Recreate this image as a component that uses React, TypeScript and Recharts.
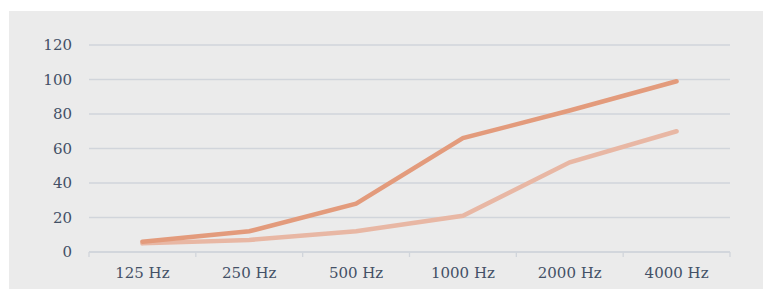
import { LineChart, Line, CartesianGrid, XAxis, YAxis } from 'recharts';

const frequencies = ['125 Hz', '250 Hz', '500 Hz', '1000 Hz', '2000 Hz', '4000 Hz'];
const seriesA = [6, 12, 28, 66, 82, 99];
const seriesB = [5, 7, 12, 21, 52, 70];
const yTicks = [0, 20, 40, 60, 80, 100, 120];

const data = frequencies.map((f, i) => ({ x: i + 0.5, freq: f, a: seriesA[i], b: seriesB[i] }));
const boundaryTicks = frequencies.map((_, i) => i).concat(frequencies.length);

const textColor = '#435066';
const gridColor = '#d1d5db';
const font = '"DejaVu Serif", serif';

function FreqTick(props: any) {
  const { x, y, index, payload } = props;
  // width of one band, from the tick spacing
  const band = 641 / frequencies.length;
  return (
    <g>
      <line x1={x} y1={y - 8} x2={x} y2={y - 3} stroke={gridColor} strokeWidth={1.3} />
      {index < frequencies.length && (
        <text
          x={x + band / 2}
          y={y + 18}
          textAnchor="middle"
          fill={textColor}
          fontSize={15}
          fontFamily={font}
        >
          {frequencies[payload.value]}
        </text>
      )}
    </g>
  );
}

export default function App() {
  return (
    <div style={{ position: 'absolute', left: 0, top: 0, width: 763, height: 289, background: '#fff' }}>
      <div style={{ position: 'absolute', left: 9, top: 11, width: 754, height: 278, background: '#ebebeb' }}>
        <LineChart
          width={754}
          height={278}
          data={data}
          margin={{ top: 34, right: 33, bottom: 0, left: 0 }}
        >
          <CartesianGrid stroke={gridColor} strokeWidth={1.3} vertical={false} />
          <XAxis
            dataKey="x"
            type="number"
            domain={[0, frequencies.length]}
            ticks={boundaryTicks}
            interval={0}
            height={37}
            tickLine={false}
            axisLine={{ stroke: gridColor, strokeWidth: 1.3 }}
            tick={<FreqTick />}
          />
          <YAxis
            domain={[0, 120]}
            ticks={yTicks}
            width={80}
            tickLine={false}
            axisLine={false}
            tickMargin={11}
            tick={{ fill: textColor, fontSize: 15, fontFamily: font }}
          />
          <Line
            dataKey="b"
            stroke="#e8b7a4"
            strokeWidth={4.5}
            strokeLinecap="round"
            dot={false}
            isAnimationActive={false}
          />
          <Line
            dataKey="a"
            stroke="#e39b7c"
            strokeWidth={4.5}
            strokeLinecap="round"
            dot={false}
            isAnimationActive={false}
          />
        </LineChart>
      </div>
    </div>
  );
}
